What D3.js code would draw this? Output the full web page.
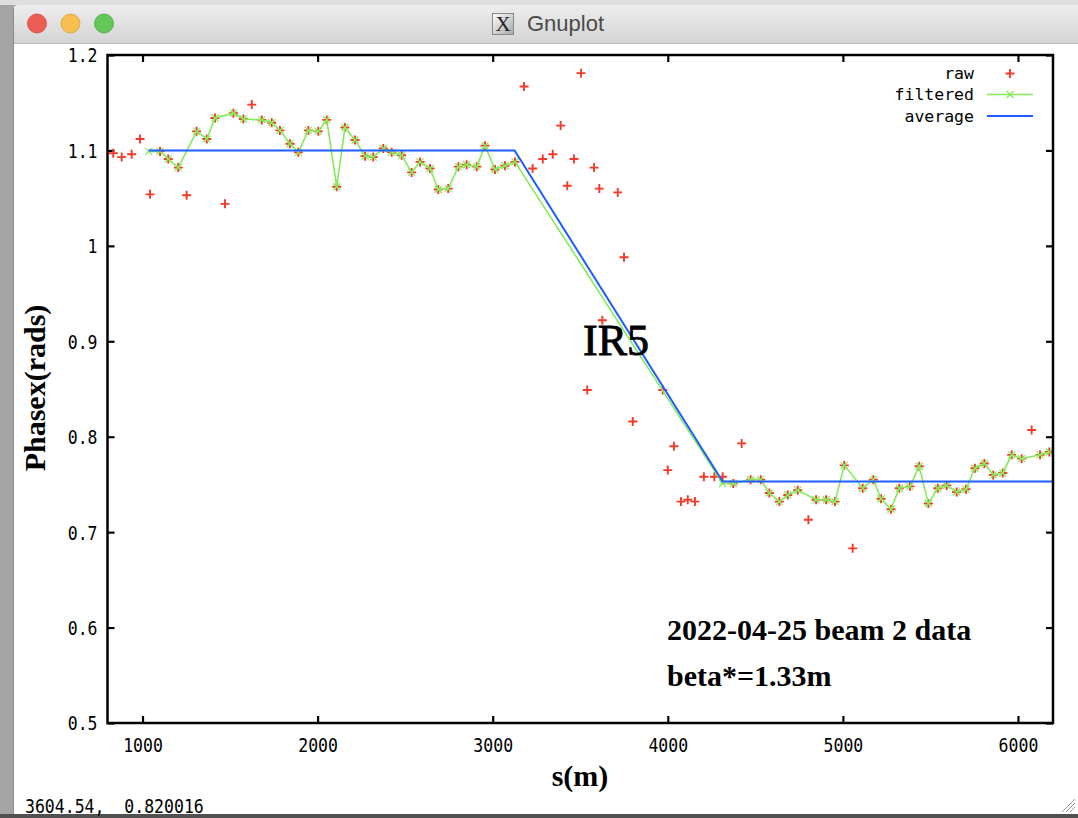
<!DOCTYPE html>
<html><head><meta charset="utf-8">
<script src="https://cdn.jsdelivr.net/npm/d3@7/dist/d3.min.js"></script>
<style>body{margin:0;background:#fff;overflow:hidden}svg{display:block}</style>
</head><body>
<svg id="c" width="1078" height="818"></svg>
<script>
// ---------------- data ----------------
const rawS = [833,881,938,986,1043,1100,1147,1204,1252,1309,1367,1414,1471,1519,1576,1624,1681,1738,1785,1842,1890,1947,2004,2052,2109,2156,2214,2271,2318,2375,2423,2480,2537,2585,2642,2689,2746,2804,2851,2909,2956,3013,3070,3127,
  3179,3228,3286,3343,3388,3426,3464,3504,3540,3579,3609,3626,3714,3750,3800,3971,4000,4035,4075,4114,4155,4206,4266,4313,
  4374,4422,4473,4531,4580,4637,4685,4742,4803,4847,4904,4955,5008,5056,5113,5174,5218,5275,5322,5383,5436,5488,5542,5593,5650,5703,5754,5808,5859,5913,5964,6021,6078,6126,6179];
const rawV = [1.097,1.093,1.096,1.112,1.054,1.099,1.091,1.082,1.053,1.120,1.112,1.134,1.044,1.139,1.133,1.148,1.132,1.129,1.121,1.107,1.098,1.121,1.120,1.132,1.062,1.124,1.111,1.094,1.093,1.102,1.098,1.095,1.077,1.088,1.081,1.059,1.060,1.083,1.085,1.083,1.105,1.080,1.084,1.088,
  1.167,1.081,1.091,1.096,1.126,1.063,1.091,1.181,0.849,1.082,1.060,0.922,1.056,0.988,0.816,0.849,0.765,0.790,0.732,0.734,0.732,0.758,0.758,0.758,
  0.751,0.793,0.755,0.755,0.741,0.732,0.739,0.744,0.713,0.734,0.734,0.732,0.770,0.683,0.746,0.755,0.735,0.724,0.746,0.748,0.769,0.730,0.746,0.749,0.742,0.745,0.767,0.772,0.760,0.762,0.781,0.777,0.807,0.781,0.784];

const filtS = [1035,1100,1147,1204,1309,1367,1414,1519,1576,1681,1738,1785,1842,1890,1947,2004,2052,2109,2156,2214,2271,2318,2375,2423,2480,2537,2585,2642,2689,2746,2804,2851,2909,2956,3013,3070,3127,
  4313,4374,4473,4531,4580,4637,4685,4742,4847,4904,4955,5008,5113,5174,5218,5275,5322,5383,5436,5488,5542,5593,5650,5703,5754,5808,5859,5913,5964,6021,6126,6179];
const filtV = [1.099,1.099,1.091,1.082,1.120,1.112,1.134,1.139,1.133,1.132,1.129,1.121,1.107,1.098,1.121,1.120,1.132,1.062,1.124,1.111,1.094,1.093,1.102,1.098,1.095,1.077,1.088,1.081,1.059,1.060,1.083,1.085,1.083,1.105,1.080,1.084,1.088,
  0.751,0.751,0.755,0.755,0.741,0.732,0.739,0.744,0.734,0.734,0.732,0.770,0.746,0.755,0.735,0.724,0.746,0.748,0.769,0.730,0.746,0.749,0.742,0.745,0.767,0.772,0.760,0.762,0.781,0.777,0.781,0.784];

const avgS = [1035,3125,4313,6200];
const avgV = [1.100,1.100,0.753,0.753];

const xTicks = [1000,2000,3000,4000,5000,6000];
const yTicks = [0.5,0.6,0.7,0.8,0.9,1.0,1.1,1.2];
const yTickLabels = ["0.5","0.6","0.7","0.8","0.9","1","1.1","1.2"];
const seriesNames = ["raw","filtered","average"];

// ---------------- drawing ----------------
const svg = d3.select("#c");
const MONO = "'DejaVu Sans Mono', 'Liberation Mono', monospace";
const SERIF = "'Liberation Serif', 'Times New Roman', serif";
const RED = "#f23a2a", GREEN = "#86ea5a", BLUE = "#1f5cff";

// window chrome
svg.append("rect").attr("width",1078).attr("height",818).attr("fill","#a4a4a4");
svg.append("rect").attr("x",0).attr("y",0).attr("width",1078).attr("height",5).attr("fill","#dedede");
svg.append("rect").attr("x",0).attr("y",814).attr("width",1078).attr("height",4).attr("fill","#505050");
const defs = svg.append("defs");
const tg = defs.append("linearGradient").attr("id","tb").attr("x1",0).attr("y1",0).attr("x2",0).attr("y2",1);
tg.append("stop").attr("offset","0").attr("stop-color","#ededed");
tg.append("stop").attr("offset","1").attr("stop-color","#d4d4d4");
svg.append("path").attr("d","M13,11 Q13,5 19,5 L1078,5 L1078,814 L13,814 Z").attr("fill","#ffffff");
svg.append("path").attr("d","M13,43 L13,11 Q13,5 19,5 L1078,5 L1078,43 Z").attr("fill","url(#tb)");
svg.append("line").attr("x1",13).attr("x2",1078).attr("y1",43.5).attr("y2",43.5).attr("stroke","#b8b8b8");
svg.append("line").attr("x1",13.5).attr("x2",13.5).attr("y1",8).attr("y2",814).attr("stroke","#8a8a8a");
[["#ee5d55","#d2443c",37],["#f6bf4f","#d9a03a",70.5],["#63c656","#4ea83f",104]].forEach(([f,s,cx])=>{
  svg.append("circle").attr("cx",cx).attr("cy",23.5).attr("r",9.5).attr("fill",f).attr("stroke",s).attr("stroke-width",0.8);
});
// X icon + title
const ig = defs.append("linearGradient").attr("id","ic").attr("x1",0).attr("y1",0).attr("x2",1).attr("y2",1);
ig.append("stop").attr("offset","0").attr("stop-color","#ffffff");
ig.append("stop").attr("offset","1").attr("stop-color","#a8a8a8");
svg.append("rect").attr("x",492.5).attr("y",13.5).attr("width",21).attr("height",21).attr("fill","url(#ic)").attr("stroke","#888");
svg.append("text").attr("x",503).attr("y",31).attr("text-anchor","middle").attr("font-family",SERIF).attr("font-size",21).attr("fill","#222").text("X");
svg.append("text").attr("x",527).attr("y",31).attr("font-family","'Liberation Sans', Arial, sans-serif").attr("font-size",22).attr("fill","#4a4a4a").text("Gnuplot");
// resize grip
[[1062,812,1075,799],[1066,812,1075,803],[1070,812,1075,807]].forEach(([a,b,c,d])=>{
  svg.append("line").attr("x1",a).attr("y1",b).attr("x2",c).attr("y2",d).attr("stroke","#9a9a9a").attr("stroke-width",1);
});

// scales
const L=107.5, R=1053, T=55, B=723;
const x = d3.scaleLinear().domain([800,6200]).range([L,R]);
const y = d3.scaleLinear().domain([0.5,1.2]).range([B,T]);

defs.append("clipPath").attr("id","plot").append("rect").attr("x",L).attr("y",T).attr("width",R-L).attr("height",B-T);

function styleAxis(g){
  g.select(".domain").remove();
  g.selectAll(".tick line").attr("stroke","#000").attr("stroke-width",2.2);
}
// bottom axis with labels
const gB = svg.append("g").attr("transform",`translate(0,${B})`)
  .call(d3.axisBottom(x).tickValues(xTicks).tickSize(-7).tickSizeOuter(0).tickFormat(d3.format("d")));
styleAxis(gB);
gB.selectAll(".tick text").attr("y",0).attr("dy","0.35em").attr("transform","translate(0,22) scale(1,1.2)")
  .attr("font-family",MONO).attr("font-size",16.5).attr("fill","#000");
// top axis (mirror ticks)
const gT = svg.append("g").attr("transform",`translate(0,${T})`)
  .call(d3.axisTop(x).tickValues(xTicks).tickSize(-7).tickSizeOuter(0).tickFormat(""));
styleAxis(gT);
// left axis with labels
const gL = svg.append("g").attr("transform",`translate(${L},0)`)
  .call(d3.axisLeft(y).tickValues(yTicks).tickSize(-7).tickSizeOuter(0).tickFormat((d,i)=>yTickLabels[i]));
styleAxis(gL);
gL.selectAll(".tick text").attr("x",0).attr("dy","0.35em").attr("transform","translate(-10,0) scale(1,1.2)")
  .attr("text-anchor","end").attr("font-family",MONO).attr("font-size",16.5).attr("fill","#000");
// right axis (mirror ticks)
const gR = svg.append("g").attr("transform",`translate(${R},0)`)
  .call(d3.axisRight(y).tickValues(yTicks).tickSize(-7).tickSizeOuter(0).tickFormat(""));
styleAxis(gR);

// data
const plot = svg.append("g").attr("clip-path","url(#plot)");
const plus = "M-4.5,0H4.5M0,-4.5V4.5";
const cross = "M-3.5,-3.5L3.5,3.5M-3.5,3.5L3.5,-3.5";
const raw = rawS.map((s,i)=>[s,rawV[i]]);
const filt = filtS.map((s,i)=>[s,filtV[i]]);
const avg = avgS.map((s,i)=>[s,avgV[i]]);

plot.selectAll("path.raw").data(raw).join("path").attr("class","raw")
  .attr("transform",d=>`translate(${x(d[0])},${y(d[1])})`).attr("d",plus)
  .attr("stroke",RED).attr("stroke-width",1.9).attr("fill","none");
const line = d3.line().x(d=>x(d[0])).y(d=>y(d[1]));
plot.append("path").attr("d",line(filt)).attr("fill","none").attr("stroke",GREEN).attr("stroke-width",1.6);
plot.selectAll("path.filt").data(filt).join("path").attr("class","filt")
  .attr("transform",d=>`translate(${x(d[0])},${y(d[1])})`).attr("d",cross)
  .attr("stroke",GREEN).attr("stroke-width",1.3).attr("fill","none");
plot.append("path").attr("d",line(avg)).attr("fill","none").attr("stroke",BLUE).attr("stroke-width",2);

// frame
svg.append("rect").attr("x",L).attr("y",T).attr("width",R-L).attr("height",B-T)
  .attr("fill","none").attr("stroke","#000").attr("stroke-width",2.5);

// legend
const legY = [73.5,94.5,116];
seriesNames.forEach((n,i)=>{
  svg.append("text").attr("x",974).attr("y",legY[i]).attr("dy","0.35em")
    .attr("text-anchor","end").attr("font-family",MONO).attr("font-size",16.5).attr("fill","#000").text(n);
});
svg.append("path").attr("transform",`translate(1010,${legY[0]})`).attr("d",plus).attr("stroke",RED).attr("stroke-width",1.9);
svg.append("line").attr("x1",987).attr("x2",1033).attr("y1",legY[1]).attr("y2",legY[1]).attr("stroke",GREEN).attr("stroke-width",1.6);
svg.append("path").attr("transform",`translate(1010,${legY[1]})`).attr("d",cross).attr("stroke",GREEN).attr("stroke-width",1.3);
svg.append("line").attr("x1",987).attr("x2",1033).attr("y1",legY[2]).attr("y2",legY[2]).attr("stroke",BLUE).attr("stroke-width",2);

// labels
svg.append("text").attr("x",583).attr("y",355).attr("font-family",SERIF).attr("font-size",44).attr("fill","#000")
  .attr("stroke","#000").attr("stroke-width",0.9).text("IR5");
svg.append("text").attr("x",667).attr("y",640).attr("font-family",SERIF).attr("font-weight","bold").attr("font-size",30).attr("fill","#000").text("2022-04-25 beam 2 data");
svg.append("text").attr("x",667).attr("y",686).attr("font-family",SERIF).attr("font-weight","bold").attr("font-size",30).attr("fill","#000").text("beta*=1.33m");
svg.append("text").attr("x",580).attr("y",786).attr("text-anchor","middle").attr("font-family",SERIF).attr("font-weight","bold").attr("font-size",30).attr("fill","#000").text("s(m)");
svg.append("text").attr("transform","translate(45,388) rotate(-90)").attr("text-anchor","middle").attr("font-family",SERIF).attr("font-weight","bold").attr("font-size",30).attr("fill","#000").text("Phasex(rads)");

// status line
svg.append("text").attr("transform","translate(25,806) scale(1,1.2)").attr("dy","0.35em")
  .attr("font-family",MONO).attr("font-size",16.5).attr("fill","#000").attr("xml:space","preserve").text("3604.54,  0.820016");
</script>
</body></html>
